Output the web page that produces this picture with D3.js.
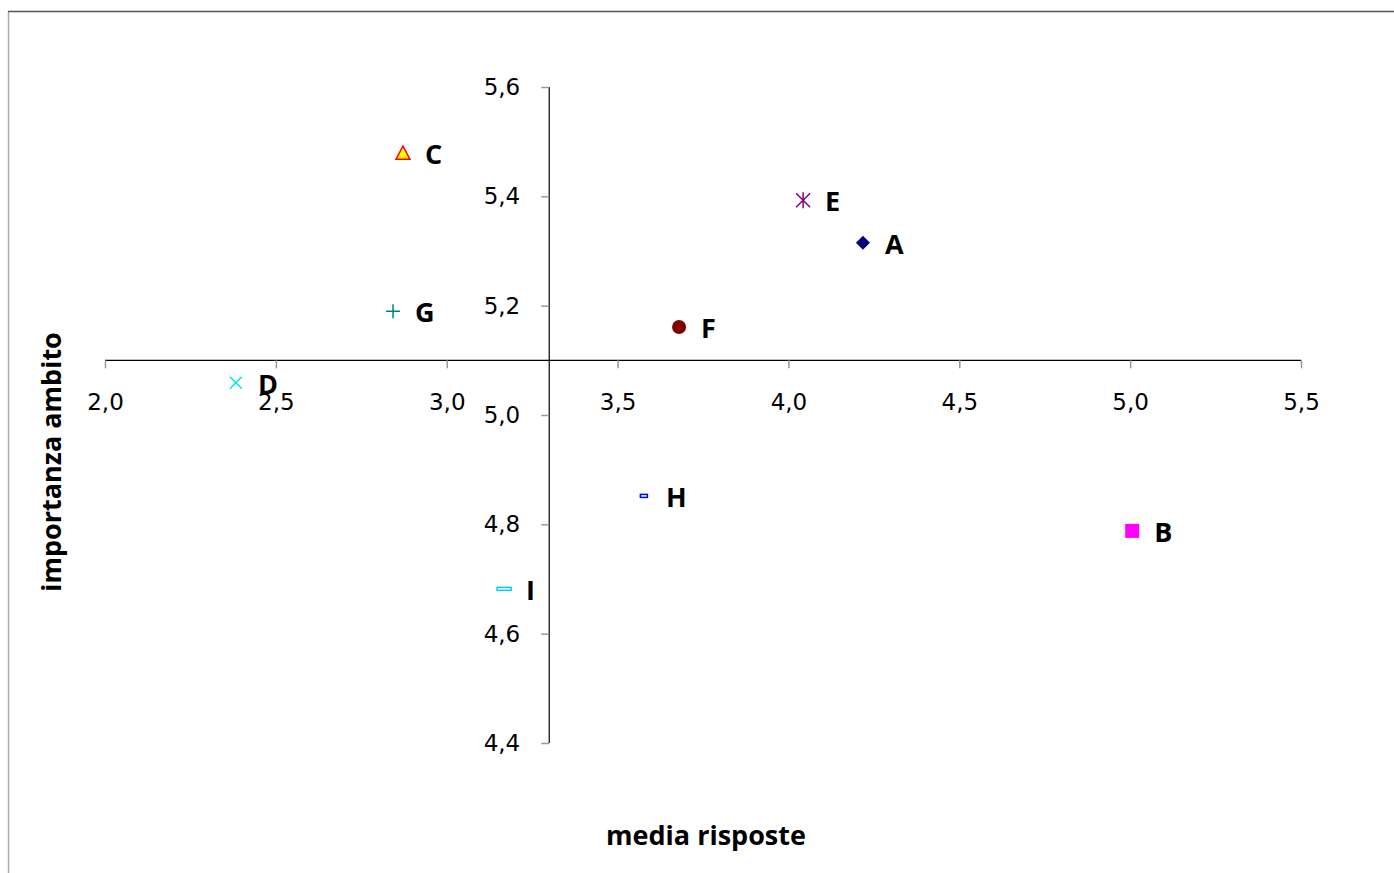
<!DOCTYPE html>
<html><head><meta charset="utf-8">
<script src="https://cdn.jsdelivr.net/npm/d3@7/dist/d3.min.js"></script>
<style>body{margin:0;background:#fff}svg{display:block}</style>
</head><body><svg id="c" width="1394" height="873"></svg>
<script>
const labels = ["A","B","C","D","E","F","G","H","I"];
const xValues = [4.218, 5.006, 2.872, 2.383, 4.043, 3.680, 2.843, 3.577, 3.168];
const yValues = [5.315, 4.788, 5.479, 5.059, 5.393, 5.161, 5.190, 4.852, 4.682];
const markerTypes = ["diamond","square","triangle","x","star","circle","plus","smallrect","rect"];
const xTicks = [2.0,2.5,3.0,3.5,4.0,4.5,5.0,5.5];
const yTicks = [4.4,4.6,4.8,5.0,5.2,5.4,5.6];
const xCross = 3.3, yCross = 5.1;

const svg = d3.select("#c");
// frame
svg.append("line").attr("x1",8.5).attr("x2",8.5).attr("y1",11).attr("y2",873).attr("stroke","#aaa").attr("stroke-width",1.5);
svg.append("line").attr("x1",8).attr("x2",1394).attr("y1",11.5).attr("y2",11.5).attr("stroke","#555").attr("stroke-width",1.5);

const x = d3.scaleLinear().domain([2.0,5.5]).range([105,1301]);
const y = d3.scaleLinear().domain([4.4,5.6]).range([743,87]);
const fmt = d => d.toFixed(1).replace(".",",");
const tickFont = "DejaVu Sans";

// x axis
const xa = svg.append("g").attr("transform",`translate(0,${y(yCross)})`)
  .call(d3.axisBottom(x).tickValues(xTicks).tickFormat(fmt).tickSize(8).tickPadding(25));
xa.select(".domain").attr("stroke","#000").attr("stroke-width",1.2).attr("d",`M${x(2.0)},0H${x(5.5)}`);
xa.selectAll(".tick line").attr("stroke","#999").attr("stroke-width",1.5);
xa.selectAll(".tick text").attr("font-family",tickFont).attr("font-size",23).attr("fill","#000");

// y axis
const ya = svg.append("g").attr("transform",`translate(${x(xCross)},0)`)
  .call(d3.axisLeft(y).tickValues(yTicks).tickFormat(fmt).tickSize(8).tickPadding(21));
ya.select(".domain").attr("stroke","#000").attr("stroke-width",1.2).attr("d",`M0,${y(5.6)}V${y(4.4)}`);
ya.selectAll(".tick line").attr("stroke","#999").attr("stroke-width",1.5);
ya.selectAll(".tick text").attr("font-family",tickFont).attr("font-size",23).attr("fill","#000");

// markers
const data = labels.map((l,i)=>({l, x:xValues[i], y:yValues[i], t:markerTypes[i]}));
const g = svg.append("g");
data.forEach(d=>{
  const cx = x(d.x), cy = y(d.y);
  const m = g.append("g").attr("transform",`translate(${cx},${cy})`);
  switch(d.t){
    case "diamond": m.append("path").attr("d","M0,-7L7,0L0,7L-7,0Z").attr("fill","#000080"); break;
    case "square": m.append("rect").attr("x",-7).attr("y",-7).attr("width",14).attr("height",14).attr("fill","#ff00ff"); break;
    case "triangle": m.append("path").attr("d","M0,-7L7,6L-7,6Z").attr("fill","#ffff00").attr("stroke","#ff0000").attr("stroke-width",1.5); break;
    case "x": m.append("path").attr("d","M-6,-6L6,6M-6,6L6,-6").attr("stroke","#00e5e5").attr("stroke-width",1.5); break;
    case "star": m.append("path").attr("d","M-7,-7L7,7M-7,7L7,-7M0,-8V8").attr("stroke","#800080").attr("stroke-width",1.5); break;
    case "circle": m.append("circle").attr("r",7).attr("fill","#800000"); break;
    case "plus": m.append("path").attr("d","M-7,0H7M0,-7V7").attr("stroke","#008080").attr("stroke-width",1.5); break;
    case "smallrect": m.append("rect").attr("x",-3.5).attr("y",-1.5).attr("width",7).attr("height",3).attr("fill","#fff").attr("stroke","#0000ff").attr("stroke-width",1.5); break;
    case "rect": m.append("rect").attr("x",-7).attr("y",-1.5).attr("width",14).attr("height",3).attr("fill","#fff").attr("stroke","#00ccff").attr("stroke-width",1.5); break;
  }
  g.append("text").attr("x",cx+22).attr("y",cy+11).text(d.l)
    .attr("font-family","Open Sans").attr("font-weight","bold").attr("font-size",27).attr("fill","#000");
});

// titles
svg.append("text").attr("x",706).attr("y",845).attr("text-anchor","middle").text("media risposte")
  .attr("font-family","Open Sans").attr("font-weight","bold").attr("font-size",27);
svg.append("text").attr("transform","translate(61,462) rotate(-90)").attr("text-anchor","middle").text("importanza ambito")
  .attr("font-family","Open Sans").attr("font-weight","bold").attr("font-size",27);
</script></body></html>
